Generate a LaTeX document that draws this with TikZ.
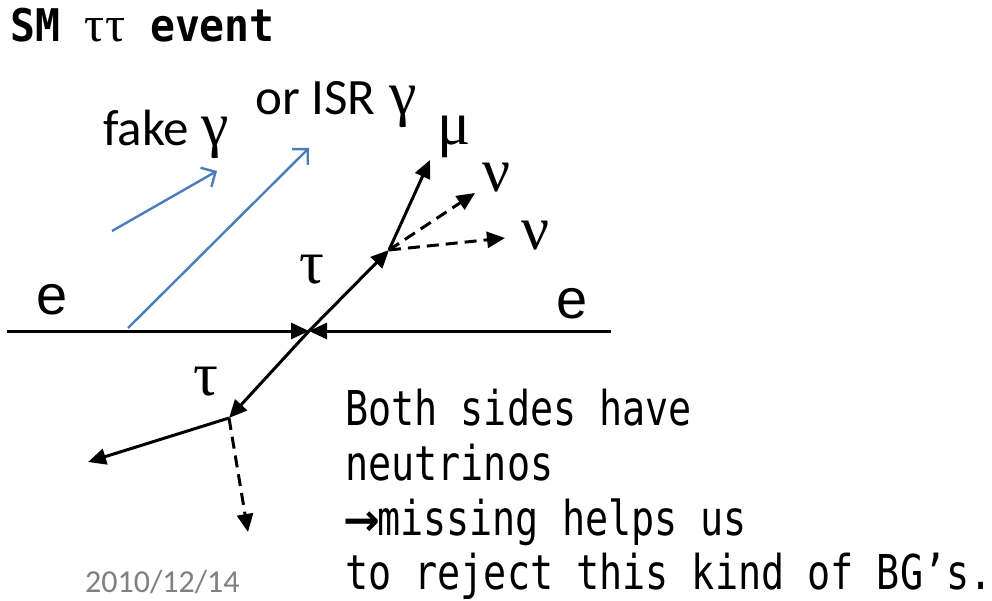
\documentclass[tikz,border=0pt]{standalone}
\usepackage{fontspec}
\setmainfont{Carlito}
\newfontfamily\greekfont{Liberation Serif}
\newfontfamily\arialfont{Liberation Sans}
\newfontfamily\symfont{DejaVu Sans}
\newfontfamily\monofont[FakeStretch=0.8]{DejaVu Sans Mono}
\newfontfamily\titlefont[FakeStretch=0.92]{DejaVu Sans Mono}
\usetikzlibrary{arrows.meta}
\definecolor{gblue}{RGB}{74,126,187}
\definecolor{dategray}{RGB}{128,128,128}
\tikzset{
  particle/.style={line width=3pt,-{Triangle[length=18pt,width=16pt]}},
  nuline/.style={particle,dash pattern=on 12pt off 7pt},
  photon/.style={gblue,line width=2.4pt,-{Straight Barb[length=11pt,width=22pt,line width=2.4pt]}},
  greeklbl/.style={inner sep=0pt,font=\greekfont\fontsize{62}{64}\selectfont},
  elbl/.style={inner sep=0pt,font=\arialfont\fontsize{56}{60}\selectfont},
  calib/.style={inner sep=0pt,anchor=base west,font=\fontsize{51}{54}\selectfont},
  bodytext/.style={inner sep=0pt,anchor=base west,font=\monofont\fontsize{48}{56}\selectfont}
}
\begin{document}
\begin{tikzpicture}[x=1pt,y=-1pt]
\useasboundingbox[fill=white] (0,0) rectangle (992,601);
% title
\node[inner sep=0pt,anchor=base west,font=\titlefont\bfseries\fontsize{45}{48}\selectfont] (title) at (10,42) {SM {\greekfont\mdseries\fontsize{50}{52}\selectfont ττ} event};
% coordinates
\coordinate (L) at (7,331);
\coordinate (R) at (611,331);
\coordinate (C) at (309,331);
\coordinate (V1) at (389,250);
\coordinate (M) at (430,160);
\coordinate (N1) at (475,193);
\coordinate (N2) at (505,238);
\coordinate (V2) at (229,418);
\coordinate (P) at (88,462);
\coordinate (N3) at (248,532);
\coordinate (G1s) at (112,231);
\coordinate (G1e) at (217,171);
\coordinate (G2s) at (128,328);
\coordinate (G2e) at (309,148);
% beam
\draw[particle] (L) -- (C);
\draw[particle] (R) -- (C);
% taus
\draw[particle] (C) -- (V1);
\draw[particle] (C) -- (V2);
% decays
\draw[particle] (V1) -- (M);
\draw[nuline] (V1) -- (N1);
\draw[nuline] (V1) -- (N2);
\draw[particle] (V2) -- (P);
\draw[nuline] (V2) -- (N3);
% photons
\draw[photon] (G1s) -- (G1e);
\draw[photon] (G2s) -- (G2e);
% labels
\node[elbl] (e1) at (52,300) {e};
\node[elbl] (e2) at (572,304) {e};
\node[greeklbl] (tau1) at (312,270) {τ};
\node[greeklbl] (tau2) at (206,382) {τ};
\node[greeklbl] (mu) at (454,137) {μ};
\node[greeklbl] (nu1) at (497,178) {ν};
\node[greeklbl] (nu2) at (536,236) {ν};
\node[calib] (fake) at (103,146) {fake\hspace{12pt}{\greekfont\fontsize{62}{64}\selectfont γ}};
\node[calib] (isr) at (255,115) {or ISR\hspace{14pt}{\greekfont\fontsize{62}{64}\selectfont γ}};
\node[inner sep=0pt,anchor=base west,text=dategray,font=\fontsize{32}{36}\selectfont] (date) at (85,592) {2010/12/14};
% text
\node[bodytext] (b1) at (345,425) {Both sides have};
\node[bodytext] (b2) at (345,480) {neutrinos};
\node[bodytext] (b3) at (345,535) {{\symfont\bfseries\fontsize{44}{48}\selectfont\kern-2pt →\kern-3pt}missing helps us};
\node[bodytext] (b4) at (345,589) {to reject this kind of BG’s.};
\end{tikzpicture}
\end{document}
